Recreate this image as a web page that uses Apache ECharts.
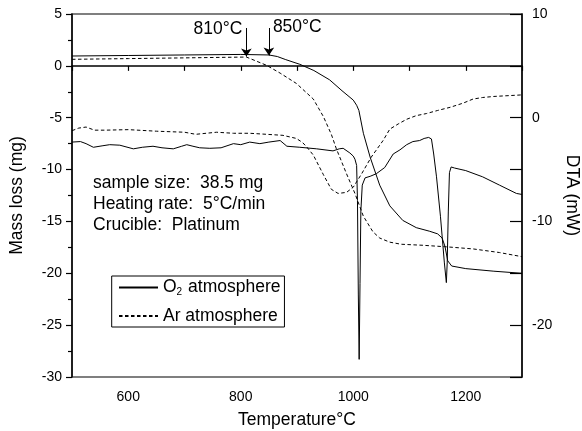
<!DOCTYPE html>
<html>
<head>
<meta charset="utf-8">
<script src="https://cdn.jsdelivr.net/npm/echarts@6/dist/echarts.min.js"></script>
<style>
  html, body { margin: 0; padding: 0; background: #fff; }
  #chart { width: 582px; height: 431px; }
</style>
</head>
<body>
<div id="chart"></div>
<script>
// Thermogravimetric mass loss (left axis, mg) and DTA signal (right axis, mW)
// recorded under O2 and Ar atmospheres.

const o2MassT = [500, 600, 700, 800, 850, 865, 880, 905, 930, 958, 980, 1000, 1006, 1010, 1018, 1030, 1047, 1065, 1088, 1112, 1136, 1150, 1158, 1163, 1168, 1175, 1200, 1250, 1300];
const o2Mass  = [0.95, 1.0, 1.05, 1.1, 1.05, 0.9, 0.6, 0.15, -0.45, -1.35, -2.4, -3.3, -3.8, -4.3, -6.5, -8.8, -11.5, -13.5, -14.9, -15.6, -15.95, -16.2, -16.6, -17.4, -18.8, -19.3, -19.55, -19.8, -20.0];

const arMassT = [500, 600, 700, 810, 846, 870, 899, 929, 947, 961, 970, 988, 1003, 1018, 1035, 1047, 1065, 1085, 1124, 1166, 1213, 1260, 1300];
const arMass  = [0.63, 0.7, 0.77, 0.85, 0.05, -0.7, -1.7, -3.2, -4.9, -6.6, -8.0, -10.4, -12.3, -14.5, -16.0, -16.6, -17.0, -17.2, -17.3, -17.45, -17.65, -18.0, -18.4];

const o2DtaT = [500, 515, 525, 538, 555, 567, 585, 609, 625, 644, 660, 680, 695, 704, 715, 727, 745, 765, 787, 800, 816, 834, 850, 870, 882, 905, 935, 964, 975, 982, 994, 1000, 1003, 1006, 1007.5, 1009, 1010.5, 1012, 1013.5, 1016, 1021, 1030, 1041, 1056, 1071, 1083, 1095, 1106, 1118, 1126, 1134, 1139, 1143, 1148, 1155, 1162, 1165.5, 1167, 1169, 1171, 1174, 1180, 1200, 1230, 1260, 1290, 1300];
const o2Dta  = [-2.35, -2.3, -2.5, -2.85, -2.7, -2.6, -2.65, -3.0, -2.85, -2.75, -2.9, -3.0, -2.75, -2.6, -2.75, -2.9, -2.95, -2.9, -2.5, -2.6, -2.35, -2.5, -2.35, -2.2, -2.75, -2.85, -3.0, -3.2, -3.0, -2.95, -3.4, -3.7, -4.0, -4.6, -8.0, -17.0, -23.3, -16.0, -9.0, -6.5, -5.8, -5.65, -5.4, -4.8, -3.5, -3.1, -2.6, -2.3, -2.2, -2.0, -1.9, -2.05, -3.5, -5.7, -9.5, -14.0, -15.9, -14.0, -9.0, -5.3, -4.75, -4.85, -5.1, -5.7, -6.5, -7.3, -7.4];

const arDtaT = [500, 512, 525, 540, 560, 600, 650, 700, 720, 757, 787, 816, 846, 875, 899, 910, 917, 929, 947, 961, 973, 988, 1000, 1015, 1032, 1053, 1065, 1080, 1095, 1112, 1130, 1150, 1172, 1195, 1213, 1230, 1250, 1300];
const arDta  = [-1.25, -1.0, -0.9, -1.2, -1.2, -1.15, -1.3, -1.4, -1.6, -1.4, -1.5, -1.5, -1.6, -1.7, -2.0, -2.4, -2.8, -3.6, -5.5, -6.9, -7.3, -7.2, -6.7, -5.4, -3.8, -2.2, -1.1, -0.6, -0.15, 0.2, 0.4, 0.7, 1.0, 1.4, 1.8, 1.95, 2.05, 2.2];

// Onset temperatures marked with arrows on the mass curves
const onsetT = [810, 850];
const onsetTip = [0.9, 1.0];
const onsetLabels = ['810°C', '850°C'];

const seriesNames = ['O2 atmosphere', 'Ar atmosphere'];
const infoLines = ['sample size:  38.5 mg', 'Heating rate:  5°C/min', 'Crucible:  Platinum'];

const FONT = '"Liberation Sans", Arial, Helvetica, sans-serif';
const zip = (xs, ys) => xs.map((x, i) => [x, ys[i]]);

const chart = echarts.init(document.getElementById('chart'), null, { renderer: 'canvas' });

const solid = { color: '#000', width: 1, type: 'solid' };
const dashed = { color: '#000', width: 1, type: [3.5, 2.5] };

const option = {
  animation: false,
  backgroundColor: '#fff',
  textStyle: { fontFamily: FONT, color: '#000' },
  grid: {
    left: 72, right: 60, top: 14, bottom: 54,
    show: true, borderColor: '#555', borderWidth: 1.5, backgroundColor: 'transparent',
    outerBoundsMode: 'none'
  },
  xAxis: {
    type: 'value', min: 500, max: 1300, interval: 100,
    name: 'Temperature°C', nameLocation: 'middle', nameGap: 34,
    nameTextStyle: { fontSize: 17.5, color: '#000', fontFamily: FONT },
    axisLine: { lineStyle: { color: '#000', width: 1.5 } },
    axisTick: { show: true, length: 5, lineStyle: { color: '#000', width: 1.2 } },
    axisLabel: {
      fontSize: 14, color: '#000', fontFamily: FONT, margin: 13,
      formatter: v => (v % 200 === 0 ? String(v) : '')
    },
    splitLine: { show: false }
  },
  yAxis: [
    {
      type: 'value', position: 'left', min: -30, max: 5, interval: 5,
      name: 'Mass loss (mg)', nameLocation: 'middle', nameGap: 46, nameRotate: 90,
      nameTextStyle: { fontSize: 17.5, color: '#000', fontFamily: FONT },
      axisLine: { show: true, lineStyle: { color: '#000', width: 1.5 } },
      axisTick: { show: true, length: 6, lineStyle: { color: '#000', width: 1.2 } },
      minorTick: { show: true, splitNumber: 2, length: 4, lineStyle: { color: '#000', width: 1.2 } },
      axisLabel: { fontSize: 14, color: '#000', fontFamily: FONT, margin: 10 },
      splitLine: { show: false }
    },
    {
      type: 'value', position: 'right', min: -25, max: 10, interval: 5,
      name: 'DTA (mW)', nameLocation: 'middle', nameGap: 40, nameRotate: -90,
      nameTextStyle: { fontSize: 17.5, color: '#000', fontFamily: FONT },
      axisLine: { show: true, lineStyle: { color: '#000', width: 1.5 } },
      axisTick: { show: true, inside: true, length: 12, lineStyle: { color: '#000', width: 1.2 } },
      axisLabel: {
        fontSize: 14, color: '#000', fontFamily: FONT, margin: 10,
        formatter: v => (v % 10 === 0 ? String(v) : '')
      },
      splitLine: { show: false }
    }
  ],
  legend: {
    orient: 'vertical', left: 111.7, top: 276,
    data: seriesNames,
    selectedMode: false,
    padding: [2.5, 4, 2, 6.3],
    itemGap: 10, itemWidth: 39, itemHeight: 18,
    borderColor: '#000', borderWidth: 1, borderRadius: 0,
    backgroundColor: '#fff',
    itemStyle: { color: 'transparent', borderWidth: 0, opacity: 0 },
    textStyle: {
      fontSize: 17.5, color: '#000', fontFamily: FONT,
      rich: {
        a: { fontSize: 17.5, color: '#000', fontFamily: FONT },
        s: { fontSize: 10, color: '#000', fontFamily: FONT, padding: [9, 1, 0, 0] }
      }
    },
    formatter: name => {
      if (name.startsWith('O2')) return '{a|O}{s|2}{a|' + name.slice(2) + '}';
      return '{a|' + name + '}';
    }
  },
  graphic: [
    {
      type: 'text', left: 93, top: 172.5, silent: true,
      style: {
        text: infoLines.join('\n'),
        fontSize: 17.5, fontFamily: FONT, lineHeight: 21, fill: '#000'
      }
    }
  ],
  series: [
    {
      name: seriesNames[0], type: 'line', yAxisIndex: 0,
      data: zip(o2MassT, o2Mass), showSymbol: false, symbol: 'none',
      lineStyle: solid, itemStyle: { color: '#000' }, z: 3,
      markLine: {
        silent: true, animation: false,
        symbol: ['none', 'arrow'], symbolSize: 8,
        label: { show: false },
        lineStyle: { color: '#000', width: 1, type: 'solid' },
        itemStyle: { color: '#000' },
        emphasis: { disabled: true },
        data: onsetT.map((t, i) => [{ coord: [t, 3.65] }, { coord: [t, onsetTip[i]] }])
      },
      markPoint: {
        silent: true, animation: false, symbol: 'circle', symbolSize: 0,
        itemStyle: { color: 'transparent' },
        data: onsetT.map((t, i) => ({
          coord: [t, i === 0 ? 3.55 : 3.75],
          label: {
            show: true, formatter: onsetLabels[i],
            position: i === 0 ? 'left' : 'right', distance: 4,
            fontSize: 17.5, color: '#000', fontFamily: FONT
          }
        }))
      }
    },
    {
      name: seriesNames[1], type: 'line', yAxisIndex: 0,
      data: zip(arMassT, arMass), showSymbol: false, symbol: 'none',
      lineStyle: dashed, itemStyle: { color: '#000' }, z: 3
    },
    {
      name: seriesNames[0], type: 'line', yAxisIndex: 1,
      data: zip(o2DtaT, o2Dta), showSymbol: false, symbol: 'none',
      lineStyle: solid, itemStyle: { color: '#000' }, z: 3
    },
    {
      name: seriesNames[1], type: 'line', yAxisIndex: 1,
      data: zip(arDtaT, arDta), showSymbol: false, symbol: 'none',
      lineStyle: dashed, itemStyle: { color: '#000' }, z: 3
    }
  ]
};

chart.setOption(option);
</script>
</body>
</html>
